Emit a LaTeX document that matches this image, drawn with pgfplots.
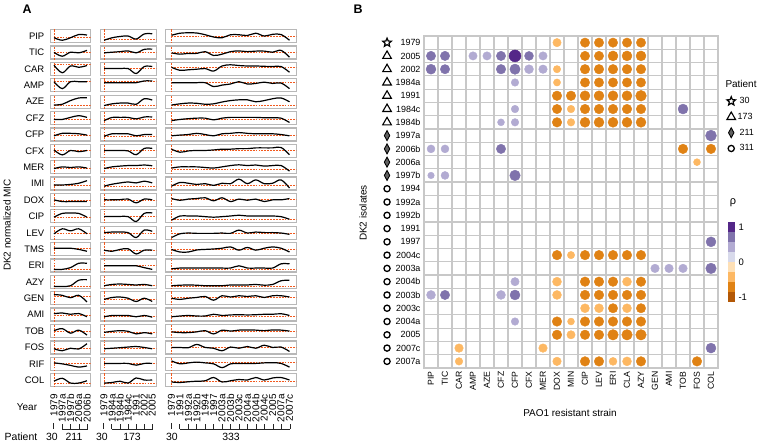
\documentclass[border=0pt]{standalone}
\usepackage{pgfplots}
\pgfplotsset{compat=1.18}
\usepackage{fontspec}
\setmainfont{Liberation Sans}
\definecolor{refc}{RGB}{242,90,30}
\definecolor{cDO}{HTML}{E08214}
\definecolor{cLO}{HTML}{FDB863}
\definecolor{cMP}{HTML}{8073AC}
\definecolor{cLP}{HTML}{B2ABD2}
\definecolor{cDP}{HTML}{542788}
\definecolor{pA}{HTML}{B35806}
\definecolor{pB}{HTML}{E08214}
\definecolor{pC}{HTML}{FDB863}
\definecolor{pD}{HTML}{FEE0B6}
\definecolor{pE}{HTML}{D8DAEB}
\definecolor{pF}{HTML}{B2ABD2}
\definecolor{pG}{HTML}{8073AC}
\definecolor{pH}{HTML}{542788}
\definecolor{gridc}{RGB}{200,200,200}
\newcommand\fs[1]{\fontsize{#1}{#1}\selectfont}
\pgfdeclareplotmark{ostar}{%
  \pgfpathmoveto{\pgfpointpolar{90}{\pgfplotmarksize}}%
  \pgfpathlineto{\pgfpointpolar{126}{0.45\pgfplotmarksize}}%
  \pgfpathlineto{\pgfpointpolar{162}{\pgfplotmarksize}}%
  \pgfpathlineto{\pgfpointpolar{198}{0.45\pgfplotmarksize}}%
  \pgfpathlineto{\pgfpointpolar{234}{\pgfplotmarksize}}%
  \pgfpathlineto{\pgfpointpolar{270}{0.45\pgfplotmarksize}}%
  \pgfpathlineto{\pgfpointpolar{306}{\pgfplotmarksize}}%
  \pgfpathlineto{\pgfpointpolar{342}{0.45\pgfplotmarksize}}%
  \pgfpathlineto{\pgfpointpolar{18}{\pgfplotmarksize}}%
  \pgfpathlineto{\pgfpointpolar{54}{0.45\pgfplotmarksize}}%
  \pgfpathclose\pgfusepathqstroke}
\pgfplotsset{
 miniax/.style={scale only axis, height=13bp, anchor=south west, ymin=-0.1, ymax=1.1,
   xtick=\empty, ytick=\empty, axis line style={draw=black!28, line width=1.3bp}},
 refl/.style={color=refc, line width=0.8bp, dash pattern=on 1.8bp off 1.1bp},
 curvel/.style={black, line width=1.2bp, smooth, tension=0.55},
 botlab/.style={major tick length=0pt, xticklabel style={rotate=90, anchor=east, font=\fs{10}, inner sep=0pt}, xticklabel shift=7.5bp},
}
\newcommand{\mini}[8]{%
 \pgfmathsetmacro\yb{401.35-16.38*#5}%
 \begin{axis}[miniax, at={(#1bp,\yb bp)}, width=#2bp, xmin=#3, xmax=#4, #8]
 \addplot[refl] coordinates {(0,#6) (#4,#6)};
 \addplot[refl] coordinates {(0,-0.2) (0,1.2)};
 \addplot[curvel] table[header=false, row sep=\\, x expr=\coordindex, y index=0] {#7};
 \end{axis}}
\newcommand{\miniA}[4][]{\mini{50.6}{40}{-0.41}{4.44}{#2}{#3}{#4}{#1}}
\newcommand{\miniB}[4][]{\mini{100.6}{55.8}{-0.43}{6.52}{#2}{#3}{#4}{#1}}
\newcommand{\miniC}[4][]{\mini{165.6}{130.8}{-0.7}{14.82}{#2}{#3}{#4}{#1}}
\begin{document}
\begin{tikzpicture}
\path[use as bounding box] (0,0) rectangle (757bp,444bp);
% ---------------- Panel A ----------------
% PIP
\miniA{0}{0.35}{0.35\\0.12\\0.35\\0.65\\0.6\\}
\miniB{0}{0.16}{0.12\\0.35\\0.47\\0.51\\0.23\\0.7\\0.72\\}
\miniC{0}{0.51}{0.58\\0.77\\0.81\\0.79\\0.63\\0.42\\0.35\\0.63\\0.63\\0.56\\0.77\\0.51\\0.67\\0.65\\0.12\\}
% TIC
\miniA{1}{0.47}{0.51\\0.16\\0.53\\0.47\\0.7\\}
\miniB{1}{0.47}{0.47\\0.53\\0.58\\0.65\\0.47\\0.79\\0.81\\}
\miniC{1}{0.47}{0.47\\0.35\\0.42\\0.42\\0.58\\0.23\\0.35\\0.58\\0.65\\0.58\\0.63\\0.63\\0.53\\0.7\\0.07\\}
% CAR
\miniA{2}{0.88}{0.84\\0.14\\0.77\\0.65\\0.81\\}
\miniB{2}{0.53}{0.53\\0.53\\0.53\\0.53\\0.07\\0.72\\0.72\\}
\miniC{2}{0.65}{0.65\\0.37\\0.42\\0.47\\0.53\\0.3\\0.77\\0.88\\0.81\\0.77\\0.77\\0.74\\0.72\\0.72\\0.19\\}
% AMP
\miniA{3}{0.83}{0.83\\0.19\\0.83\\0.83\\0.83\\}
\miniB{3}{0.83}{0.74\\0.74\\0.74\\0.74\\0.74\\0.9\\0.9\\}
\miniC{3}{0.74}{0.74\\0.74\\0.74\\0.74\\0.74\\0.38\\0.52\\0.62\\0.83\\0.62\\0.67\\0.79\\0.67\\0.71\\0.19\\}
% AZE
\miniA{4}{0.19}{0.19\\0.26\\0.6\\0.84\\0.86\\}
\miniB{4}{0.14}{0.14\\0.3\\0.37\\0.37\\0.26\\0.77\\0.65\\}
\miniC{4}{0.19}{0.19\\0.3\\0.37\\0.35\\0.26\\0.3\\0.47\\0.6\\0.67\\0.67\\0.49\\0.6\\0.77\\0.84\\0.49\\}
% CFZ
\miniA{5}{0.37}{0.37\\0.37\\0.56\\0.72\\0.56\\}
\miniB{5}{0.33}{0.26\\0.56\\0.56\\0.56\\0.42\\0.6\\0.6\\}
\miniC{5}{0.37}{0.26\\0.37\\0.44\\0.49\\0.49\\0.33\\0.49\\0.56\\0.56\\0.56\\0.56\\0.53\\0.53\\0.49\\0.09\\}
% CFP
\miniA{6}{0.37}{0.37\\0.6\\0.6\\0.56\\0.44\\}
\miniB{6}{0.33}{0.33\\0.56\\0.56\\0.56\\0.37\\0.49\\0.49\\}
\miniC{6}{0.37}{0.37\\0.44\\0.49\\0.6\\0.49\\0.37\\0.56\\0.6\\0.67\\0.6\\0.56\\0.56\\0.56\\0.49\\0.37\\}
% CFX
\miniA{7}{0.53}{0.58\\0.12\\0.53\\0.42\\0.53\\}
\miniB{7}{0.53}{0.53\\0.53\\0.53\\0.49\\0.14\\0.72\\0.72\\}
\miniC{7}{0.58}{0.65\\0.37\\0.49\\0.53\\0.53\\0.58\\0.65\\0.65\\0.7\\0.7\\0.77\\0.77\\0.77\\0.81\\0.14\\}
% MER
\miniA{8}{0.37}{0.37\\0.53\\0.47\\0.53\\0.42\\}
\miniB{8}{0.37}{0.37\\0.53\\0.6\\0.65\\0.65\\0.7\\0.63\\}
\miniC{8}{0.3}{0.42\\0.53\\0.53\\0.53\\0.47\\0.42\\0.53\\0.65\\0.72\\0.65\\0.7\\0.6\\0.65\\0.65\\0.14\\}
% IMI
\miniA{9}{0.37}{0.37\\0.37\\0.42\\0.53\\0.77\\}
\miniB{9}{0.26}{0.26\\0.44\\0.56\\0.65\\0.56\\0.72\\0.56\\}
\miniC{9}{0.37}{0.26\\0.6\\0.53\\0.42\\0.49\\0.33\\0.53\\0.49\\0.91\\0.49\\0.84\\0.49\\0.53\\0.84\\0.09\\}
% DOX
\miniA{10}{0.47}{0.51\\0.35\\0.35\\0.35\\0.35\\}
\miniB{10}{0.47}{0.51\\0.51\\0.53\\0.58\\0.23\\0.58\\0.51\\}
\miniC{10}{0.58}{0.63\\0.47\\0.58\\0.63\\0.7\\0.42\\0.7\\0.35\\0.58\\0.47\\0.58\\0.35\\0.51\\0.51\\0.63\\}
% CIP
\miniA{11}{0.42}{0.42\\0.77\\0.81\\0.77\\0.42\\}
\miniB{11}{0.49}{0.49\\0.49\\0.49\\0.47\\0.02\\0.77\\0.81\\}
\miniC{11}{0.23}{0.14\\0.53\\0.53\\0.53\\0.47\\0.42\\0.47\\0.53\\0.6\\0.53\\0.53\\0.53\\0.53\\0.47\\0.23\\}
% LEV
\miniA{12}{0.4}{0.4\\0.86\\0.67\\0.86\\0.4\\}
\miniB{12}{0.44}{0.51\\0.56\\0.56\\0.51\\0.05\\0.74\\0.63\\}
\miniC{12}{0.4}{0.05\\0.4\\0.47\\0.44\\0.44\\0.44\\0.47\\0.44\\0.74\\0.47\\0.56\\0.51\\0.51\\0.47\\0.35\\}
% TMS
\miniA{13}{0.58}{0.58\\0.58\\0.58\\0.47\\0.3\\}
\miniB{13}{0.4}{0.4\\0.3\\0.47\\0.53\\0.05\\0.4\\0.4\\}
\miniC{13}{0.47}{0.47\\0.23\\0.23\\0.42\\0.47\\0.51\\0.58\\0.7\\0.4\\0.65\\0.4\\0.58\\0.7\\0.58\\0.23\\}
% ERI
\miniA{14}{0.12}{0.12\\0.14\\0.3\\0.7\\0.7\\}
\miniB{14}{0.47}{0.47\\0.47\\0.47\\0.47\\0.47\\0.3\\0.14\\}
\miniC{14}{0.14}{0.19\\0.26\\0.26\\0.26\\0.26\\0.26\\0.26\\0.26\\0.47\\0.26\\0.26\\0.26\\0.26\\0.65\\0.65\\}
% AZY
\miniA{15}{0.07}{0.07\\0.07\\0.14\\0.65\\0.7\\}
\miniB{15}{0.14}{0.14\\0.26\\0.3\\0.26\\0.21\\0.26\\0.14\\}
\miniC{15}{0.07}{0.14\\0.19\\0.21\\0.19\\0.14\\0.14\\0.14\\0.21\\0.21\\0.21\\0.26\\0.19\\0.26\\0.6\\0.65\\}
% GEN
\miniA{16}{0.68}{0.84\\0.77\\0.55\\0.77\\0.16\\}
\miniB{16}{0.39}{0.39\\0.57\\0.61\\0.5\\0.2\\0.5\\0.2\\}
\miniC{16}{0.57}{0.5\\0.39\\0.5\\0.57\\0.66\\0.32\\0.73\\0.61\\0.73\\0.66\\0.73\\0.57\\0.73\\0.73\\0.61\\}
% AMI
\miniA{17}{0.47}{0.58\\0.65\\0.53\\0.6\\0.3\\}
\miniB{17}{0.3}{0.3\\0.42\\0.42\\0.42\\0.3\\0.42\\0.26\\}
\miniC{17}{0.3}{0.3\\0.37\\0.42\\0.37\\0.37\\0.53\\0.42\\0.47\\0.49\\0.47\\0.49\\0.53\\0.53\\0.58\\0.42\\}
% TOB
\miniA{18}{0.49}{0.53\\0.72\\0.3\\0.58\\0.12\\}
\miniB{18}{0.37}{0.37\\0.47\\0.53\\0.47\\0.23\\0.35\\0.23\\}
\miniC{18}{0.49}{0.42\\0.35\\0.35\\0.42\\0.53\\0.23\\0.58\\0.49\\0.58\\0.6\\0.58\\0.53\\0.6\\0.58\\0.49\\}
% FOS
\miniA{19}{0.37}{0.37\\0.19\\0.42\\0.35\\0.84\\}
\miniB{19}{0.42}{0.37\\0.42\\0.47\\0.53\\0.58\\0.49\\0.37\\}
\miniC{19}{0.49}{0.49\\0.49\\0.47\\0.77\\0.49\\0.42\\0.19\\0.53\\0.42\\0.58\\0.42\\0.7\\0.49\\0.53\\0.12\\}
% RIF
\miniA{20}{0.53}{0.58\\0.49\\0.35\\0.19\\0.3\\}
\miniB{20}{0.53}{0.53\\0.53\\0.53\\0.53\\0.37\\0.53\\0.53\\}
\miniC{20}{0.65}{0.77\\0.49\\0.58\\0.65\\0.58\\0.49\\0.14\\0.49\\0.53\\0.53\\0.53\\0.58\\0.6\\0.53\\0.19\\}
% COL (bottom row, with year labels)
\miniA[botlab, xtick={0,...,4}, xticklabels={1979,1997a,1997b,2006a,2006b}]{21}{0.23}{0.4\\0.67\\0.23\\0.23\\0.44\\}
\miniB[botlab, xtick={0,...,6}, xticklabels={1979,1984a,1984b,1984c,1991,2002,2005}]{21}{0.23}{0.23\\0.28\\0.4\\0.23\\0.7\\0.51\\0.51\\}
\miniC[botlab, xtick={0,...,14}, xticklabels={1979,1991,1992a,1992b,1994,1997,2003a,2003b,2003c,2004a,2004b,2004c,2005,2007a,2007c}]{21}{0.35}{0.33\\0.28\\0.35\\0.4\\0.44\\0.74\\0.33\\0.44\\0.56\\0.51\\0.74\\0.51\\0.7\\0.74\\0.51\\}
% ---------------- Panel B ----------------
\begin{axis}[scale only axis, width=294bp, height=332bp, at={(424bp,76bp)}, anchor=south west,
 xmin=0.5, xmax=21.5, ymin=0.5, ymax=25.5, y dir=reverse, clip=false,
 xtick={1,...,21},
 xticklabels={PIP,TIC,CAR,AMP,AZE,CFZ,CFP,CFX,MER,DOX,MIN,CIP,LEV,ERI,CLA,AZY,GEN,AMI,TOB,FOS,COL},
 xticklabel style={rotate=90, anchor=east, font=\fs{8.7}},
 ytick={1,...,25},
 yticklabels={1979,2005,2002,1984a,1991,1984c,1984b,1997a,2006b,2006a,1997b,1994,1992a,1992b,1991,1997,2004c,2003a,2004b,2003b,2003c,2004a,2005,2007c,2007a},
 yticklabel style={font=\fs{9}},
 major tick length=0pt, minor tick length=0pt,
 minor xtick={1.5,2.5,...,20.5}, minor ytick={1.5,2.5,...,24.5},
 xminorgrids=true, yminorgrids=true,
 minor grid style={draw=gridc, line width=1.2bp},
 axis line style={draw=gridc, line width=1.2bp},
 legend style={draw=none, fill=none, at={(axis description cs:1.012,0.878)}, anchor=north west,
   font=\fs{9}, row sep=4bp, inner xsep=1bp, cells={anchor=west}},
]
\addlegendimage{empty legend}\addlegendentry{\hspace{-12bp}\fs{10}Patient}
\addplot[only marks, mark=ostar, mark size=4.5, line width=1.2bp, black] coordinates {(-2.14,1)};
\addlegendentry{\hspace{2bp}30}
\addplot[only marks, mark=triangle, mark size=5, line width=1.1bp, black] coordinates {(-2.14,2)(-2.14,3)(-2.14,4)(-2.14,5)(-2.14,6)(-2.14,7)};
\addlegendentry{173}
\addplot[only marks, mark=diamond*, mark size=5, black, mark options={xscale=0.72, fill=black!62, draw=black, line width=0.9bp}] coordinates {(-2.14,8)(-2.14,9)(-2.14,10)(-2.14,11)};
\addlegendentry{\hspace{2bp}211}
\addplot[only marks, mark=o, mark size=3.1, line width=1.3bp, black] coordinates {(-2.14,12)(-2.14,13)(-2.14,14)(-2.14,15)(-2.14,16)(-2.14,17)(-2.14,18)(-2.14,19)(-2.14,20)(-2.14,21)(-2.14,22)(-2.14,23)(-2.14,24)(-2.14,25)};
\addlegendentry{\hspace{2bp}311}
% dark orange
\addplot[forget plot, scatter, only marks, mark=*, scatter/use mapped color={draw=cDO, fill=cDO},
 visualization depends on={\thisrow{s}\as\rad},
 scatter/@pre marker code/.append style={/tikz/mark size=\rad}]
 table[x=x, y=y, meta=s] {
x y s
12 1 4.7
13 1 4.7
14 1 4.7
15 1 4.7
16 1 4.7
12 2 4.7
13 2 4.7
14 2 5
15 2 5
16 2 5
12 3 4.8
13 3 4.8
14 3 4.8
15 3 4.8
16 3 4.8
12 4 4.7
13 4 4.7
14 4 4.7
15 4 4.7
16 4 4.7
10 5 4.8
11 5 4.8
12 5 5
13 5 5
14 5 5
15 5 5
16 5 5.4
10 6 4.7
12 6 4.8
13 6 4.8
14 6 4.8
15 6 4.8
16 6 4.8
10 7 4.8
12 7 5
13 7 5
14 7 5
15 7 5
16 7 5
19 9 4.8
21 9 4.8
10 17 4.8
12 17 4.8
13 17 4.8
14 17 4.8
15 17 4.8
16 17 4.8
12 19 4.8
13 19 4.8
14 19 4.8
16 19 4.8
12 20 4.8
13 20 4.8
14 20 4.8
15 20 4.8
16 20 4.8
14 21 4.7
16 21 4.7
10 22 4.8
12 22 4.8
13 22 4.8
14 22 4.8
15 22 4.8
16 22 4.8
10 23 4.8
12 23 4.8
13 23 4.8
14 23 5.3
15 23 5.3
16 23 5.3
12 25 4.8
13 25 4.8
16 25 4.8
20 25 4.8
};
% light orange
\addplot[forget plot, scatter, only marks, mark=*, scatter/use mapped color={draw=cLO, fill=cLO},
 visualization depends on={\thisrow{s}\as\rad},
 scatter/@pre marker code/.append style={/tikz/mark size=\rad}]
 table[x=x, y=y, meta=s] {
x y s
10 1 4.2
10 3 3.7
10 4 3.6
11 6 3.8
11 7 3.8
20 10 3.5
11 17 3.7
10 19 4.5
15 19 4.5
10 20 4.5
12 21 4.5
13 21 4.5
15 21 4.5
11 22 3.5
11 23 4.2
3 24 4.3
9 24 4.3
3 25 3.8
10 25 4.3
14 25 4.0
15 25 4.5
};
% medium purple
\addplot[forget plot, scatter, only marks, mark=*, scatter/use mapped color={draw=cMP, fill=cMP},
 visualization depends on={\thisrow{s}\as\rad},
 scatter/@pre marker code/.append style={/tikz/mark size=\rad}]
 table[x=x, y=y, meta=s] {
x y s
1 2 4.7
2 2 4.7
6 2 4.7
8 2 4.5
1 3 5
2 3 4.7
6 3 4.8
7 3 5.2
19 6 5
21 8 5.5
6 9 4.7
7 11 5.3
21 16 5
21 18 5.3
2 20 4.7
7 20 5
21 24 5
};
% light purple
\addplot[forget plot, scatter, only marks, mark=*, scatter/use mapped color={draw=cLP, fill=cLP},
 visualization depends on={\thisrow{s}\as\rad},
 scatter/@pre marker code/.append style={/tikz/mark size=\rad}]
 table[x=x, y=y, meta=s] {
x y s
4 2 4.2
5 2 4.2
9 2 4.2
8 3 4.5
9 3 4.3
7 4 3.8
7 6 3.8
6 7 3.5
7 7 3.8
1 9 4
2 9 4
1 11 3.3
2 11 4
17 18 4.3
18 18 4.3
19 18 4.3
7 19 4.2
1 20 4.5
6 20 4.5
7 22 3.8
};
% dark purple
\addplot[forget plot, scatter, only marks, mark=*, scatter/use mapped color={draw=cDP, fill=cDP},
 visualization depends on={\thisrow{s}\as\rad},
 scatter/@pre marker code/.append style={/tikz/mark size=\rad}]
 table[x=x, y=y, meta=s] {
x y s
7 2 6
};
\end{axis}
% colour key for rho
\begin{axis}[scale only axis, width=7bp, height=80bp, at={(728bp,142bp)}, anchor=south west,
 xmin=0, xmax=1, ymin=-1.142857, ymax=1.142857, xtick=\empty, ytick={-1,0,1}, yticklabels={-1,0,1},
 yticklabel pos=right, major tick length=0pt, axis line style={draw=none}, yticklabel style={font=\fs{9.5}}]
\addplot[draw=none, fill=pA] coordinates {(0,-1.142857)(1,-1.142857)(1,-0.857143)(0,-0.857143)};
\addplot[draw=none, fill=pB] coordinates {(0,-0.857143)(1,-0.857143)(1,-0.571429)(0,-0.571429)};
\addplot[draw=none, fill=pC] coordinates {(0,-0.571429)(1,-0.571429)(1,-0.285714)(0,-0.285714)};
\addplot[draw=none, fill=pD] coordinates {(0,-0.285714)(1,-0.285714)(1,0)(0,0)};
\addplot[draw=none, fill=pE] coordinates {(0,0)(1,0)(1,0.285714)(0,0.285714)};
\addplot[draw=none, fill=pF] coordinates {(0,0.285714)(1,0.285714)(1,0.571429)(0,0.571429)};
\addplot[draw=none, fill=pG] coordinates {(0,0.571429)(1,0.571429)(1,0.857143)(0,0.857143)};
\addplot[draw=none, fill=pH] coordinates {(0,0.857143)(1,0.857143)(1,1.142857)(0,1.142857)};
\end{axis}
% ---------------- annotations ----------------
\begin{scope}[x=1bp, y=1bp]
\node[font=\bfseries\fs{12.5}] at (27,435) {A};
\node[font=\bfseries\fs{12.5}] at (358,435) {B};
\foreach \n [count=\i from 0] in {PIP,TIC,CAR,AMP,AZE,CFZ,CFP,CFX,MER,IMI,DOX,CIP,LEV,TMS,ERI,AZY,GEN,AMI,TOB,FOS,RIF,COL}{
  \pgfmathsetmacro\yy{407.8-16.38*\i}
  \node[anchor=east, font=\fs{9.5}, inner sep=0pt] at (44.5,\yy) {\n};
}
\node[rotate=90, font=\fs{10}] at (7,219) {DK2 normalized MIC};
\node[font=\fs{10}] at (27,37) {Year};
\node[font=\fs{10.5}] at (21,7) {Patient};
\draw[line width=0.6bp, black!85] (53.5,21)--(53.5,15);
\draw[line width=0.6bp, black!85] (62.1,15)--(87.9,15);
\foreach \k in {1,...,4}{\draw[line width=0.6bp, black!85] ({53.5+8.52*\k},15)--({53.5+8.52*\k},20);}
\draw[line width=0.6bp, black!85] (103.5,21)--(103.5,15);
\draw[line width=0.6bp, black!85] (111.7,15)--(152.7,15);
\foreach \k in {1,...,6}{\draw[line width=0.6bp, black!85] ({103.5+8.2*\k},15)--({103.5+8.2*\k},20);}
\draw[line width=0.6bp, black!85] (171,21)--(171,15);
\draw[line width=0.6bp, black!85] (179.5,15)--(290.1,15);
\foreach \k in {1,...,14}{\draw[line width=0.6bp, black!85] ({171+8.505*\k},15)--({171+8.505*\k},20);}
\node[font=\fs{10.5}] at (52,7) {30};
\node[font=\fs{10.5}] at (74,7) {211};
\node[font=\fs{10.5}] at (102,7) {30};
\node[font=\fs{10.5}] at (132,7) {173};
\node[font=\fs{10.5}] at (172,7) {30};
\node[font=\fs{10.5}] at (231,7) {333};
\node[rotate=90, font=\fs{10}] at (363,231) {DK2 isolates};
\node[font=\fs{10}] at (570,31) {PAO1 resistant strain};
\node[font=\fs{11}] at (733,241) {ρ};
\end{scope}
\end{tikzpicture}
\end{document}
